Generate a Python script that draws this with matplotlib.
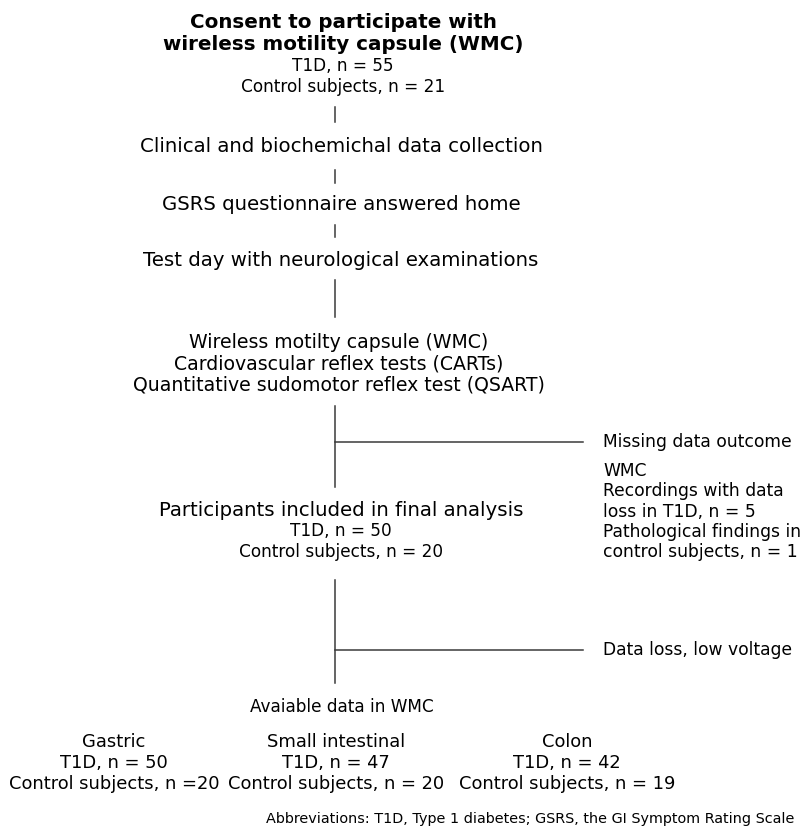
import matplotlib
matplotlib.use("Agg")
import matplotlib.pyplot as plt

# 流程图文字和人数
title_lines = ["Consent to participate with", "wireless motility capsule (WMC)"]
consent_n = {"T1D": 55, "Control subjects": 21}
steps = [
    "Clinical and biochemichal data collection",
    "GSRS questionnaire answered home",
    "Test day with neurological examinations",
]
tests = [
    "Wireless motilty capsule (WMC)",
    "Cardiovascular reflex tests (CARTs)",
    "Quantitative sudomotor reflex test (QSART)",
]
missing_title = "Missing data outcome"
missing_lines = [
    "WMC",
    "Recordings with data",
    "loss in T1D, n = 5",
    "Pathological findings in",
    "control subjects, n = 1",
]
final_title = "Participants included in final analysis"
final_n = {"T1D": 50, "Control subjects": 20}
loss_title = "Data loss, low voltage"
available_title = "Avaiable data in WMC"
segments = ["Gastric", "Small intestinal", "Colon"]
seg_t1d = [50, 47, 42]
seg_ctrl = [20, 20, 19]
ctrl_fmt = ["n ={}", "n = {}", "n = {}"]
footnote = "Abbreviations: T1D, Type 1 diabetes; GSRS, the GI Symptom Rating Scale"

W, H = 803, 827
fig = plt.figure(figsize=(W / 100, H / 100), dpi=100)
ax = fig.add_axes([0, 0, 1, 1])
ax.set_xlim(0, W)
ax.set_ylim(H, 0)
ax.axis("off")

lx = 335  # 连接线的x位置
tx = 341  # 文字居中位置
font = "DejaVu Sans"
lc = "#3a3a3a"


def vline(y0, y1, x=lx):
    ax.plot([x, x], [y0, y1], color=lc, lw=1.1)


def hline(y, x0=lx, x1=583):
    ax.plot([x0, x1], [y, y], color=lc, lw=1.1)


def txt(x, y, s, size, ha="center", **kw):
    ax.text(x, y, s, ha=ha, va="center", fontsize=size, family=font, **kw)


# 顶部标题
for i, s in enumerate(title_lines):
    txt(tx + 2, 22 + 23 * i, s, 14.3, fontweight="bold")
for i, (k, v) in enumerate(consent_n.items()):
    txt(tx + 2, 66 + 21 * i, f"{k}, n = {v}", 12.2)

vline(107, 122)
for s, y in zip(steps, [146, 205, 260]):
    txt(tx, y, s, 14.25)
vline(170, 183)
vline(225, 237)
vline(280, 317)

for i, s in enumerate(tests):
    txt(tx - 2, 343 + 21 * i, s, 13.6)

vline(406, 487)
hline(442)
txt(603, 442, missing_title, 12.3, ha="left")
for i, s in enumerate(missing_lines):
    txt(603, 471 + 20.3 * i, s, 12.3, ha="left")

txt(tx, 510, final_title, 14.25)
for i, (k, v) in enumerate(final_n.items()):
    txt(tx, 531 + 21 * i, f"{k}, n = {v}", 12.2)

vline(580, 683)
hline(650)
txt(603, 650, loss_title, 12.3, ha="left")

txt(342, 707, available_title, 12.2)
seg_x = [114, 336, 567]
for x, name, t, c, f in zip(seg_x, segments, seg_t1d, seg_ctrl, ctrl_fmt):
    txt(x, 742, name, 12.9)
    txt(x, 763, f"T1D, n = {t}", 12.9)
    txt(x, 784, "Control subjects, " + f.format(c), 12.9)

txt(266, 819, footnote, 10.4, ha="left")

fig.savefig("out.png", dpi=100)
